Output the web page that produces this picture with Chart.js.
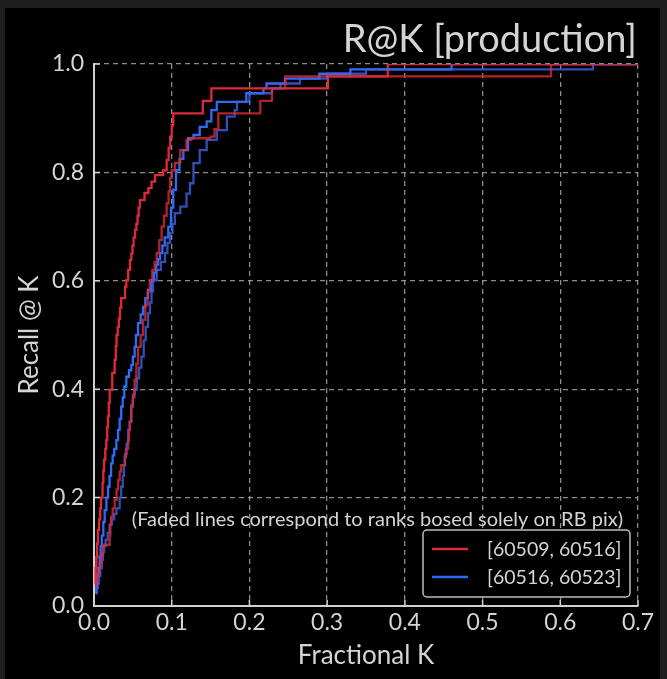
<!DOCTYPE html>
<html>
<head>
<meta charset="utf-8">
<script src="https://cdn.jsdelivr.net/npm/chart.js@4/dist/chart.umd.min.js"></script>
<style>
  html, body { margin: 0; padding: 0; background: #1e1e1e; width: 667px; height: 679px; overflow: hidden; }
  #wrap { position: absolute; left: 5px; top: 8px; width: 655px; height: 671px; background: #000; }
  canvas { display: block; }
</style>
</head>
<body>
<div id="wrap"><canvas id="c" width="655" height="671"></canvas></div>
<script>
// Recall@K curves per week range; "faded" curves use RB-pix-only ranking.
const seriesLabels = ['[60509, 60516]', '[60516, 60523]'];

const xTicks = [0.0, 0.1, 0.2, 0.3, 0.4, 0.5, 0.6, 0.7];
const yTicks = [0.0, 0.2, 0.4, 0.6, 0.8, 1.0];

// [60509, 60516] — full ranking
const redK = [0.001, 0.002, 0.003, 0.004, 0.005, 0.0065, 0.008, 0.009, 0.011, 0.012, 0.013, 0.0145, 0.0158, 0.017,
  0.018, 0.019, 0.0202, 0.0235, 0.0266, 0.028, 0.029, 0.0305, 0.032, 0.0335, 0.035, 0.040, 0.0416, 0.044, 0.0463,
  0.048, 0.0495, 0.051, 0.0528, 0.0545, 0.056, 0.0575, 0.059, 0.065, 0.070, 0.074, 0.0785, 0.089, 0.0935, 0.096,
  0.098, 0.100, 0.102, 0.140, 0.151, 0.301, 0.378, 0.700];
const redRecall = [0.04, 0.07, 0.09, 0.115, 0.14, 0.16, 0.18, 0.20, 0.227, 0.25, 0.27, 0.29, 0.306, 0.33,
  0.35, 0.375, 0.399, 0.43, 0.454, 0.48, 0.50, 0.515, 0.53, 0.55, 0.568, 0.589, 0.601, 0.62, 0.638,
  0.65, 0.665, 0.68, 0.694, 0.705, 0.72, 0.735, 0.749, 0.762, 0.771, 0.783, 0.795, 0.804, 0.823, 0.845,
  0.866, 0.887, 0.909, 0.932, 0.955, 0.977, 1.0, 1.0];

// [60509, 60516] — RB pix only
const redFadedK = [0.002, 0.004, 0.0075, 0.0095, 0.0116, 0.0202, 0.021, 0.022, 0.024, 0.0266, 0.029, 0.031, 0.033,
  0.035, 0.0395, 0.041, 0.0438, 0.045, 0.046, 0.048, 0.050, 0.0523, 0.0545, 0.0566, 0.060, 0.063, 0.066, 0.069,
  0.0716, 0.075, 0.078, 0.0807, 0.084, 0.087, 0.090, 0.0935, 0.096, 0.098, 0.100, 0.104, 0.111, 0.119, 0.125,
  0.150, 0.155, 0.160, 0.214, 0.229, 0.246, 0.588, 0.700];
const redFadedRecall = [0.04, 0.06, 0.079, 0.095, 0.113, 0.13, 0.15, 0.165, 0.18, 0.196, 0.215, 0.232, 0.248,
  0.26, 0.275, 0.29, 0.306, 0.325, 0.34, 0.368, 0.39, 0.417, 0.447, 0.478, 0.50, 0.528, 0.555, 0.58,
  0.601, 0.62, 0.635, 0.651, 0.675, 0.70, 0.72, 0.743, 0.765, 0.79, 0.804, 0.817, 0.841, 0.86, 0.863,
  0.866, 0.88, 0.909, 0.932, 0.955, 0.977, 1.0, 1.0];

// [60516, 60523] — full ranking
const blueK = [0.002, 0.003, 0.004, 0.0055, 0.0073, 0.0085, 0.010, 0.012, 0.0137, 0.016, 0.018, 0.020, 0.022, 0.024,
  0.026, 0.0287, 0.031, 0.033, 0.035, 0.037, 0.039, 0.0416, 0.045, 0.048, 0.050, 0.0523, 0.054, 0.0566, 0.060,
  0.063, 0.066, 0.0695, 0.0737, 0.077, 0.080, 0.0825, 0.085, 0.088, 0.091, 0.0956, 0.099, 0.102, 0.1055, 0.110,
  0.115, 0.121, 0.128, 0.136, 0.145, 0.151, 0.158, 0.196, 0.218, 0.222, 0.246, 0.290, 0.330, 0.460, 0.700];
const blueRecall = [0.024, 0.04, 0.055, 0.07, 0.091, 0.11, 0.13, 0.155, 0.177, 0.20, 0.22, 0.24, 0.263, 0.278,
  0.29, 0.306, 0.325, 0.345, 0.368, 0.385, 0.405, 0.423, 0.435, 0.445, 0.46, 0.478, 0.50, 0.522, 0.538,
  0.552, 0.568, 0.583, 0.601, 0.615, 0.63, 0.64, 0.651, 0.665, 0.68, 0.70, 0.735, 0.768, 0.804, 0.825,
  0.841, 0.863, 0.869, 0.884, 0.894, 0.915, 0.930, 0.946, 0.955, 0.964, 0.973, 0.982, 0.99, 1.0, 1.0];

// [60516, 60523] — RB pix only
const blueFadedK = [0.002, 0.0035, 0.005, 0.0065, 0.008, 0.010, 0.0116, 0.013, 0.015, 0.0175, 0.020, 0.023, 0.026,
  0.029, 0.033, 0.035, 0.037, 0.0385, 0.040, 0.042, 0.044, 0.046, 0.048, 0.050, 0.052, 0.055, 0.058, 0.061,
  0.064, 0.0665, 0.0695, 0.072, 0.074, 0.076, 0.0807, 0.086, 0.0914, 0.0945, 0.0978, 0.101, 0.104, 0.111, 0.119,
  0.1235, 0.128, 0.136, 0.145, 0.158, 0.171, 0.181, 0.184, 0.200, 0.229, 0.240, 0.265, 0.300, 0.350, 0.642, 0.700];
const blueFadedRecall = [0.024, 0.033, 0.042, 0.055, 0.07, 0.085, 0.10, 0.11, 0.122, 0.135, 0.15, 0.16, 0.17,
  0.18, 0.20, 0.22, 0.24, 0.26, 0.28, 0.30, 0.325, 0.34, 0.37, 0.385, 0.399, 0.42, 0.44, 0.46,
  0.49, 0.515, 0.54, 0.56, 0.58, 0.601, 0.62, 0.635, 0.651, 0.67, 0.688, 0.705, 0.725, 0.737, 0.761,
  0.78, 0.817, 0.841, 0.86, 0.878, 0.903, 0.915, 0.930, 0.946, 0.955, 0.964, 0.973, 0.982, 0.99, 1.0, 1.0];

const RED = 'rgb(222, 42, 56)';
const RED_FADED = 'rgba(222, 42, 56, 0.8)';
const BLUE = 'rgb(46, 108, 245)';
const BLUE_FADED = 'rgba(62, 98, 230, 0.8)';
const TEXT = '#d4d4d4';
const FONT = 'Lato, "Open Sans", sans-serif';

const pts = (xs, ys) => xs.map((x, i) => ({ x, y: ys[i] }));

function lineSet(label, xs, ys, color, legend) {
  return {
    label, data: pts(xs, ys), borderColor: color, backgroundColor: color,
    borderWidth: 2.3, stepped: true, pointRadius: 0, fill: false, inLegend: legend
  };
}

// Titles, inward ticks, the note and the legend box
const decorations = {
  id: 'decorations',
  afterDraw(chart) {
    const { ctx, chartArea: a, scales: { x, y } } = chart;
    ctx.save();

    // inward tick marks
    ctx.strokeStyle = TEXT;
    ctx.lineWidth = 1.5;
    ctx.beginPath();
    xTicks.forEach(v => { const px = x.getPixelForValue(v); ctx.moveTo(px, a.bottom); ctx.lineTo(px, a.bottom - 6); });
    yTicks.forEach(v => { const py = y.getPixelForValue(v); ctx.moveTo(a.left, py); ctx.lineTo(a.left + 6, py); });
    ctx.stroke();

    ctx.fillStyle = TEXT;
    // plot title
    ctx.font = '38px ' + FONT;
    ctx.textAlign = 'right';
    ctx.textBaseline = 'middle';
    ctx.fillText('R@K [production]', a.right - 1, 32);

    // axis titles
    ctx.font = '26px ' + FONT;
    ctx.textAlign = 'center';
    ctx.fillText('Fractional K', (a.left + a.right) / 2, 648);
    ctx.save();
    ctx.translate(25, (a.top + a.bottom) / 2);
    ctx.rotate(-Math.PI / 2);
    ctx.fillText('Recall @ K', 0, 0);
    ctx.restore();

    // note above the legend
    ctx.font = '20px ' + FONT;
    ctx.textAlign = 'right';
    ctx.fillText('(Faded lines correspond to ranks bosed solely on RB pix)', a.right - 15, a.bottom - 86);

    // legend
    const items = chart.data.datasets.filter(d => d.inLegend);
    const bx = a.right - 215, by = a.bottom - 76, bw = 207, bh = 67;
    ctx.fillStyle = '#000';
    ctx.strokeStyle = '#bdbdbd';
    ctx.lineWidth = 1.5;
    ctx.beginPath();
    ctx.roundRect(bx, by, bw, bh, 4);
    ctx.fill();
    ctx.stroke();
    ctx.font = '19.5px ' + FONT;
    ctx.textAlign = 'left';
    items.forEach((d, i) => {
      const ly = by + 19 + i * 28;
      ctx.strokeStyle = d.borderColor;
      ctx.lineWidth = 2.3;
      ctx.beginPath();
      ctx.moveTo(bx + 9, ly);
      ctx.lineTo(bx + 45, ly);
      ctx.stroke();
      ctx.fillStyle = TEXT;
      ctx.fillText(d.label, bx + 64, ly + 1);
    });
    ctx.restore();
  }
};

const tickFont = { family: FONT, size: 23 };

new Chart(document.getElementById('c'), {
  type: 'line',
  data: {
    datasets: [
      lineSet(seriesLabels[0] + ' (RB pix)', redFadedK, redFadedRecall, RED_FADED, false),
      lineSet(seriesLabels[1] + ' (RB pix)', blueFadedK, blueFadedRecall, BLUE_FADED, false),
      lineSet(seriesLabels[0], redK, redRecall, RED, true),
      lineSet(seriesLabels[1], blueK, blueRecall, BLUE, true)
    ]
  },
  options: {
    responsive: false,
    animation: false,
    layout: { padding: { top: 56, right: 22, left: 0, bottom: 0 } },
    plugins: { legend: { display: false }, tooltip: { enabled: false }, title: { display: false } },
    scales: {
      x: {
        type: 'linear', min: 0, max: 0.7,
        afterFit: s => { s.height = 73; },
        afterBuildTicks: s => { s.ticks = xTicks.map(v => ({ value: v })); },
        ticks: { color: TEXT, font: tickFont, padding: 3, callback: v => v.toFixed(1), maxRotation: 0, autoSkip: false },
        grid: { color: 'rgba(175,175,175,0.8)', lineWidth: 1.3, drawTicks: false },
        border: { display: true, color: '#d0d0d0', width: 2, dash: [5, 4] }
      },
      y: {
        type: 'linear', min: 0, max: 1,
        afterFit: s => { s.width = 89; },
        afterBuildTicks: s => { s.ticks = yTicks.map(v => ({ value: v })); },
        ticks: { color: TEXT, font: tickFont, padding: 10, callback: v => v.toFixed(1), autoSkip: false },
        grid: { color: 'rgba(175,175,175,0.8)', lineWidth: 1.3, drawTicks: false },
        border: { display: true, color: '#d0d0d0', width: 2, dash: [5, 4] }
      }
    }
  },
  plugins: [decorations]
});
</script>
</body>
</html>
